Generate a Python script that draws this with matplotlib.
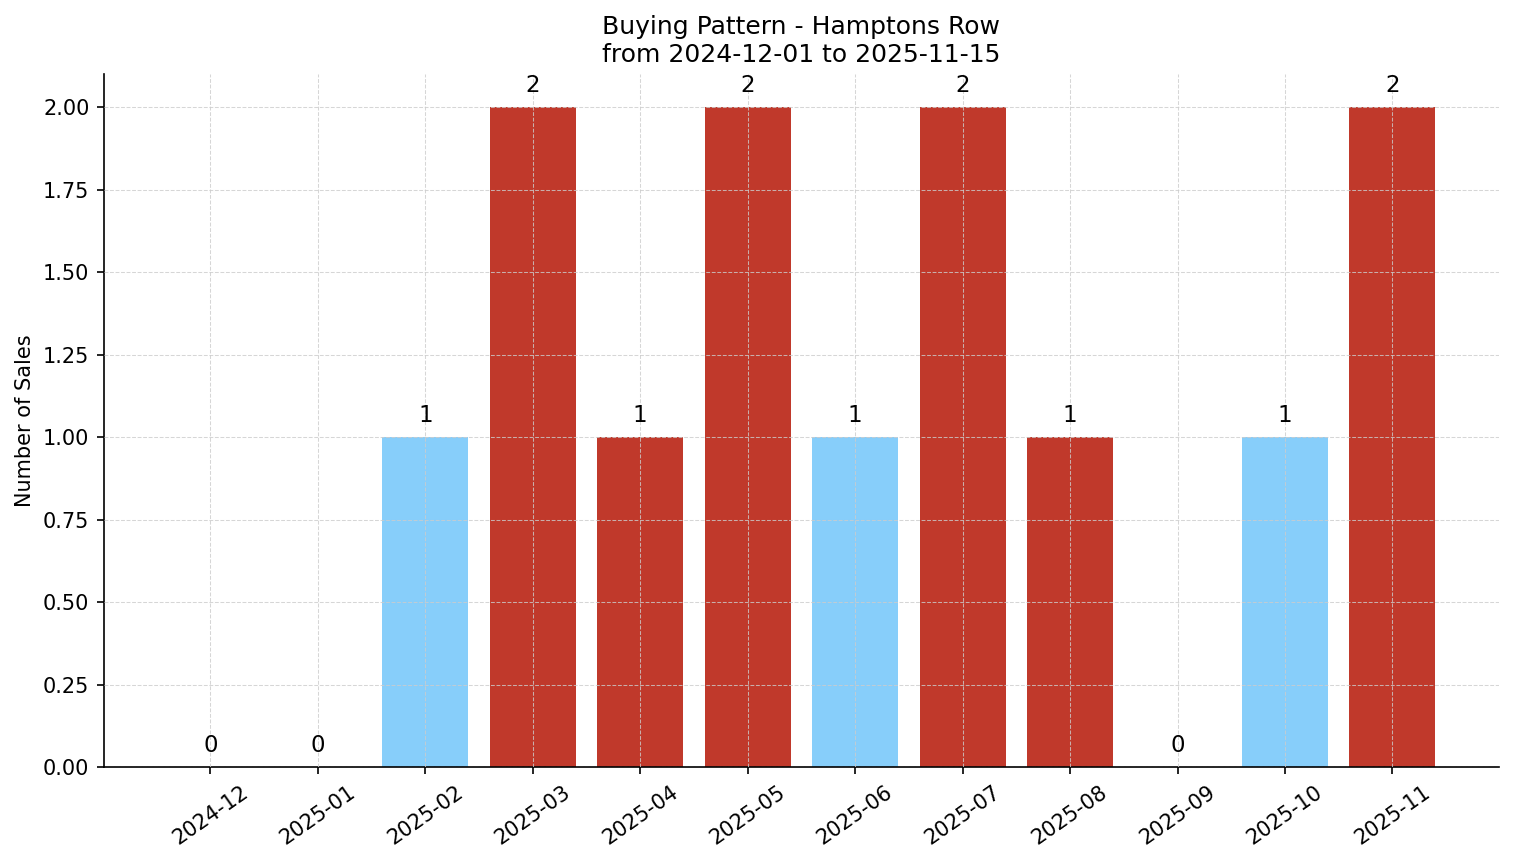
import matplotlib
matplotlib.use("Agg")
import matplotlib.pyplot as plt

months = ['2024-12', '2025-01', '2025-02', '2025-03', '2025-04', '2025-05',
          '2025-06', '2025-07', '2025-08', '2025-09', '2025-10', '2025-11']
sales = [0, 0, 1, 2, 1, 2, 1, 2, 1, 0, 1, 2]
bar_colors = ['#87CEFA', '#87CEFA', '#87CEFA', '#C0392B', '#C0392B', '#C0392B',
              '#87CEFA', '#C0392B', '#C0392B', '#87CEFA', '#87CEFA', '#C0392B']

fig, ax = plt.subplots(figsize=(1514 / 150, 863 / 150), dpi=150)

bars = ax.bar(months, sales, color=bar_colors, width=0.8)
for b, v in zip(bars, sales):
    ax.text(b.get_x() + b.get_width() / 2, v + 0.03, str(v),
            ha='center', va='bottom', fontsize=11)

ax.set_title('Buying Pattern - Hamptons Row\nfrom 2024-12-01 to 2025-11-15', fontsize=12)
ax.set_ylabel('Number of Sales', fontsize=10)
ax.tick_params(axis='both', labelsize=10)
plt.setp(ax.get_xticklabels(), rotation=35)
ax.yaxis.set_major_formatter(matplotlib.ticker.FormatStrFormatter('%.2f'))
ax.set_yticks([0, 0.25, 0.5, 0.75, 1.0, 1.25, 1.5, 1.75, 2.0])

ax.grid(True, linestyle='--', linewidth=0.5, color='#cccccc', alpha=0.8)
ax.set_axisbelow(False)
ax.spines['top'].set_visible(False)
ax.spines['right'].set_visible(False)

fig.subplots_adjust(left=0.0687, right=0.990, top=0.914, bottom=0.111)
fig.savefig('out.png', dpi=150)
